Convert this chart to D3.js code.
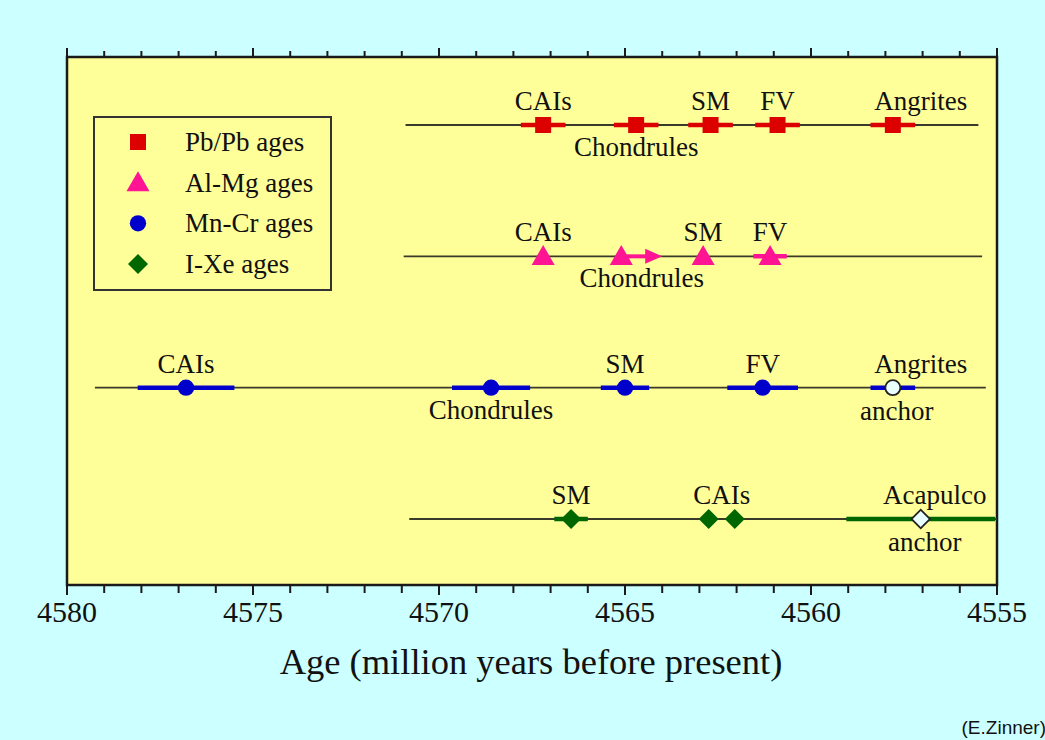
<!DOCTYPE html>
<html lang="en">
<head>
  <meta charset="UTF-8">
  <title>Solar system chronology</title>
  <style type="text/css">
    body {
        margin: 0;
        padding: 0;
        background: #ccffff;
        overflow: hidden;
    }
    text { font-family: "Liberation Serif", "Times New Roman", serif; fill: #111; }
  </style>
  <script src="https://cdn.jsdelivr.net/npm/d3@7"></script>
</head>
<body>
<div id="chart"></div>
<script>
// age axis (million years before present)
var ageDomain = [4580, 4555];
var majorTicks = d3.range(4580, 4554, -5);
var minorTicks = d3.range(4580, 4554, -1);

// series (one row each)
var series = ["Pb/Pb ages", "Al-Mg ages", "Mn-Cr ages", "I-Xe ages"];

// Pb/Pb
var pbLabels = ["CAIs", "Chondrules", "SM", "FV", "Angrites"];
var pbAges   = [4567.2, 4564.7, 4562.7, 4560.9, 4557.8];
var pbErrors = [0.6, 0.6, 0.6, 0.6, 0.6];
var pbSpan   = [4570.9, 4555.5];

// Al-Mg
var alLabels = ["CAIs", "Chondrules", "SM", "FV"];
var alAges   = [4567.2, 4565.1, 4562.9, 4561.1];
var alErrors = [0, 0, 0, 0.45];
var alArrow  = [null, 4564.0, null, null];
var alSpan   = [4570.95, 4555.4];

// Mn-Cr
var mnLabels = ["CAIs", "Chondrules", "SM", "FV", "Angrites"];
var mnAges   = [4576.8, 4568.6, 4565.0, 4561.3, 4557.8];
var mnErrors = [1.3, 1.05, 0.65, 0.95, 0.6];
var mnAnchor = [false, false, false, false, true];
var mnSpan   = [4579.25, 4555.3];

// I-Xe
var xeLabels = ["SM", "CAIs", "CAIs", "Acapulco"];
var xeAges   = [4566.45, 4562.75, 4562.05, 4557.05];
var xeErrors = [0.45, 0, 0, 2.0];
var xeAnchor = [false, false, false, true];
var xeSpan   = [4570.8, 4555];

var W = 1045, H = 740;
var svg = d3.select("#chart").append("svg")
            .attr("width", W)
            .attr("height", H);

svg.append("rect").attr("width", W).attr("height", H).attr("fill", "#ccffff");

var x = d3.scaleLinear().domain(ageDomain).range([67, 997]);
var y = d3.scalePoint().domain(series).range([125, 519]);
var plotTop = 57, plotBottom = 585;

// plot area
svg.append("rect")
   .attr("x", x(4580)).attr("y", plotTop)
   .attr("width", x(4555) - x(4580)).attr("height", plotBottom - plotTop)
   .attr("fill", "#ffff99")
   .attr("stroke", "#1a1a1a")
   .attr("stroke-width", 2.5);

// ticks, top and bottom
var tickG = svg.append("g").attr("stroke", "#1a1a1a").attr("stroke-width", 2);
tickG.selectAll("line.minT").data(minorTicks).enter().append("line")
     .attr("x1", x).attr("x2", x)
     .attr("y1", plotTop).attr("y2", function(d) { return majorTicks.indexOf(d) >= 0 ? plotTop - 9 : plotTop - 6; });
tickG.selectAll("line.minB").data(minorTicks).enter().append("line")
     .attr("x1", x).attr("x2", x)
     .attr("y1", plotBottom).attr("y2", function(d) { return majorTicks.indexOf(d) >= 0 ? plotBottom + 10 : plotBottom + 8; });

svg.selectAll("text.tick").data(majorTicks).enter().append("text")
   .attr("x", x).attr("y", 622)
   .attr("text-anchor", "middle")
   .attr("font-size", 30)
   .text(function(d) { return d; });

svg.append("text")
   .attr("x", 531).attr("y", 674)
   .attr("text-anchor", "middle")
   .attr("font-size", 36.5)
   .text("Age (million years before present)");

svg.append("text")
   .attr("x", 1046).attr("y", 734)
   .attr("text-anchor", "end")
   .attr("font-size", 19)
   .style("font-family", "'Liberation Sans', Arial, sans-serif")
   .text("(E.Zinner)");

// marker shapes
var colors = {"Pb/Pb ages": "#dd0000", "Al-Mg ages": "#ff1493", "Mn-Cr ages": "#0000cc", "I-Xe ages": "#006600"};
var shapes = {"Pb/Pb ages": d3.symbolSquare, "Al-Mg ages": d3.symbolTriangle, "Mn-Cr ages": d3.symbolCircle, "I-Xe ages": d3.symbolSquare};
var sizes  = {"Pb/Pb ages": 256, "Al-Mg ages": 230, "Mn-Cr ages": 210, "I-Xe ages": 200};
var rotate = {"Pb/Pb ages": 0, "Al-Mg ages": 0, "Mn-Cr ages": 0, "I-Xe ages": 45};

svg.append("clipPath").attr("id", "plotclip")
   .append("rect").attr("x", x(4580)).attr("y", plotTop)
   .attr("width", x(4555) - x(4580)).attr("height", plotBottom - plotTop);

var labelNudge = {"Angrites": 28, "Acapulco": 14};

function markerTransform(name, cx, cy) {
    var dy = shapes[name] === d3.symbolTriangle ? 2 : 0;
    return "translate(" + cx + "," + (cy + dy) + ") rotate(" + rotate[name] + ")";
}

function drawRow(name, labels, ages, errors, span, anchor, arrow) {
    var g = svg.append("g").attr("clip-path", "url(#plotclip)");
    var yy = y(name), col = colors[name];

    g.append("line")
     .attr("x1", x(span[0])).attr("x2", x(span[1]))
     .attr("y1", yy).attr("y2", yy)
     .attr("stroke", "#3a3a2a").attr("stroke-width", 1.8);

    ages.forEach(function(a, i) {
        if (errors[i] > 0) {
            g.append("line")
             .attr("x1", x(a + errors[i])).attr("x2", x(a - errors[i]))
             .attr("y1", yy).attr("y2", yy)
             .attr("stroke", col).attr("stroke-width", 4.5);
        }
        if (arrow && arrow[i] != null) {
            var xe = x(arrow[i]);
            g.append("line")
             .attr("x1", x(a)).attr("x2", xe - 10)
             .attr("y1", yy).attr("y2", yy)
             .attr("stroke", col).attr("stroke-width", 4);
            g.append("path")
             .attr("d", "M" + (xe - 17) + "," + (yy - 7.5) + " L" + xe + "," + yy + " L" + (xe - 17) + "," + (yy + 7.5) + " Z")
             .attr("fill", col);
        }
    });

    ages.forEach(function(a, i) {
        var open = anchor && anchor[i];
        g.append("path")
         .attr("d", d3.symbol().type(shapes[name]).size(open ? sizes[name] * 0.85 : sizes[name])())
         .attr("transform", markerTransform(name, x(a), yy))
         .attr("fill", open ? "#eaffff" : col)
         .attr("stroke", open ? "#222" : "none")
         .attr("stroke-width", 1.8);
    });

    // labels, same names merged and centered
    var seen = {};
    labels.forEach(function(lab, i) {
        var pos = arrow && arrow[i] != null ? (x(ages[i]) + x(arrow[i])) / 2 : x(ages[i]);
        if (!seen[lab]) seen[lab] = [];
        seen[lab].push(pos);
    });
    Object.keys(seen).forEach(function(lab) {
        var cx = d3.mean(seen[lab]) + (labelNudge[lab] || 0);
        var below = lab === "Chondrules";
        svg.append("text")
           .attr("x", cx).attr("y", below ? yy + 31 : yy - 15)
           .attr("text-anchor", "middle")
           .attr("font-size", 27)
           .text(lab);
    });
    if (anchor) {
        anchor.forEach(function(isA, i) {
            if (!isA) return;
            svg.append("text")
               .attr("x", x(ages[i]) + 4).attr("y", yy + 32)
               .attr("text-anchor", "middle")
               .attr("font-size", 27)
               .text("anchor");
        });
    }
}

drawRow("Pb/Pb ages", pbLabels, pbAges, pbErrors, pbSpan, null, null);
drawRow("Al-Mg ages", alLabels, alAges, alErrors, alSpan, null, alArrow);
drawRow("Mn-Cr ages", mnLabels, mnAges, mnErrors, mnSpan, mnAnchor, null);
drawRow("I-Xe ages", xeLabels, xeAges, xeErrors, xeSpan, xeAnchor, null);

// legend
var leg = svg.append("g");
leg.append("rect")
   .attr("x", 94).attr("y", 117).attr("width", 237).attr("height", 173)
   .attr("fill", "none").attr("stroke", "#333").attr("stroke-width", 2);
var ly = d3.scalePoint().domain(series).range([142, 264]);
series.forEach(function(s) {
    leg.append("path")
       .attr("d", d3.symbol().type(shapes[s]).size(sizes[s])())
       .attr("transform", markerTransform(s, 138, ly(s)))
       .attr("fill", colors[s]);
    leg.append("text")
       .attr("x", 185).attr("y", ly(s) + 9)
       .attr("font-size", 27)
       .text(s);
});
</script>
</body>
</html>
